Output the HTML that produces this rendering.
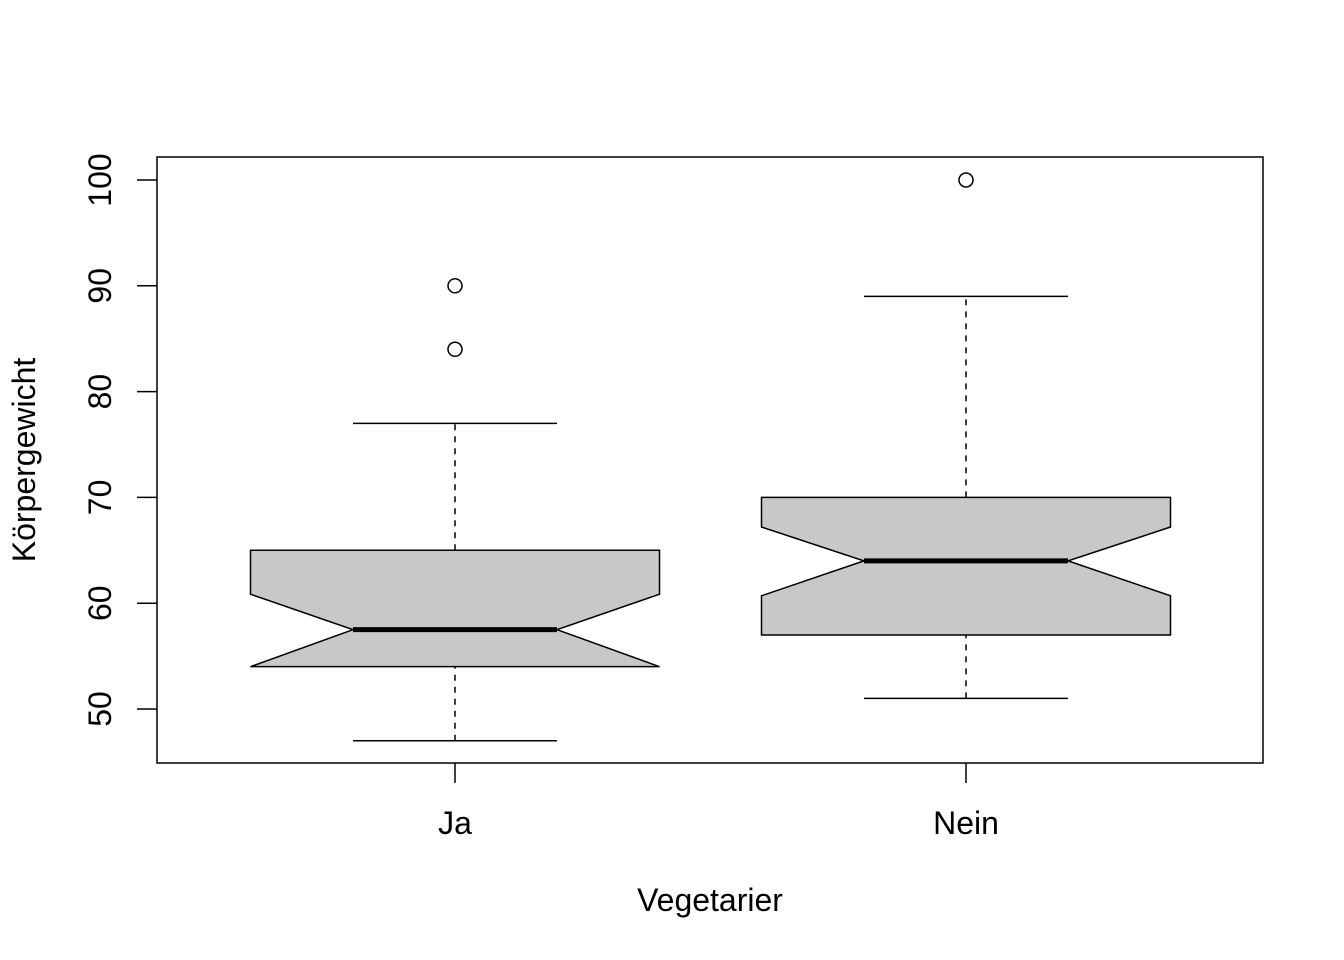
<!DOCTYPE html>
<html><head><meta charset="utf-8"><style>
html,body{margin:0;padding:0;background:#fff;}
svg{display:block;font-family:"Liberation Sans",sans-serif;}
</style></head><body>
<svg id="chart" width="1344" height="960"></svg>
<script>
const categories = ["Ja","Nein"];
const whiskerLow = [47,51];
const hingeLow = [54,57];
const medians = [57.5,64];
const hingeHigh = [65,70];
const whiskerHigh = [77,89];
const notchLow = [54,60.7];
const notchHigh = [60.85,67.2];
const outliers = [[84,90],[100]];
const yTicks = [50,60,70,80,90,100];

const NS="http://www.w3.org/2000/svg";
const svg=document.getElementById('chart');
function y(v){return 180+(100-v)*10.58;}
function x(i){return 455+i*511;}
const hw=204.5, nw=102;
function el(t,a,p){const e=document.createElementNS(NS,t);for(const k in a)e.setAttribute(k,a[k]);(p||svg).appendChild(e);return e;}

const frame=el('rect',{x:157,y:157,width:1106,height:606,fill:'none',stroke:'#000','stroke-width':1.5});



categories.forEach((c,i)=>{
  const cx=x(i);
  const g=el('g',{});
  
  
  el('line',{x1:cx,x2:cx,y1:y(whiskerLow[i]),y2:y(hingeLow[i]),stroke:'#000','stroke-width':1.5,'stroke-dasharray':'6,6'},g);
  el('line',{x1:cx,x2:cx,y1:y(hingeHigh[i]),y2:y(whiskerHigh[i]),stroke:'#000','stroke-width':1.5,'stroke-dasharray':'6,6'},g);
  el('line',{x1:cx-nw,x2:cx+nw,y1:y(whiskerLow[i]),y2:y(whiskerLow[i]),stroke:'#000','stroke-width':1.5},g);
  el('line',{x1:cx-nw,x2:cx+nw,y1:y(whiskerHigh[i]),y2:y(whiskerHigh[i]),stroke:'#000','stroke-width':1.5},g);
  const pts=[[cx-hw,y(hingeLow[i])],[cx-hw,y(notchLow[i])],[cx-nw,y(medians[i])],[cx-hw,y(notchHigh[i])],[cx-hw,y(hingeHigh[i])],
    [cx+hw,y(hingeHigh[i])],[cx+hw,y(notchHigh[i])],[cx+nw,y(medians[i])],[cx+hw,y(notchLow[i])],[cx+hw,y(hingeLow[i])]];
  el('polygon',{points:pts.map(p=>p.join(',')).join(' '),fill:'#c8c8c8',stroke:'#000','stroke-width':1.5},g);
  el('line',{x1:cx-nw,x2:cx+nw,y1:y(medians[i]),y2:y(medians[i]),stroke:'#000','stroke-width':5},g);
  outliers[i].forEach(o=>{
    const ci=el('circle',{cx:cx,cy:y(o),r:7,fill:'none',stroke:'#000','stroke-width':1.5});
    
    
  });
  el('line',{x1:cx,x2:cx,y1:763,y2:783,stroke:'#000','stroke-width':1.5});
  const t=el('text',{x:cx,y:834,'text-anchor':'middle','font-size':32});
  t.textContent=c;
  
  
});

yTicks.forEach(v=>{
  el('line',{x1:137,x2:157,y1:y(v),y2:y(v),stroke:'#000','stroke-width':1.5});
  const t=el('text',{x:0,y:0,'text-anchor':'middle','font-size':32,transform:`translate(111,${y(v)}) rotate(-90)`});
  t.textContent=v;
  
  
});
const xt=el('text',{x:710,y:911,'text-anchor':'middle','font-size':32});
xt.textContent='Vegetarier';


const yt=el('text',{x:0,y:0,'text-anchor':'middle','font-size':32,transform:'translate(35,460) rotate(-90)'});
yt.textContent='Körpergewicht';


</script>
</body></html>
